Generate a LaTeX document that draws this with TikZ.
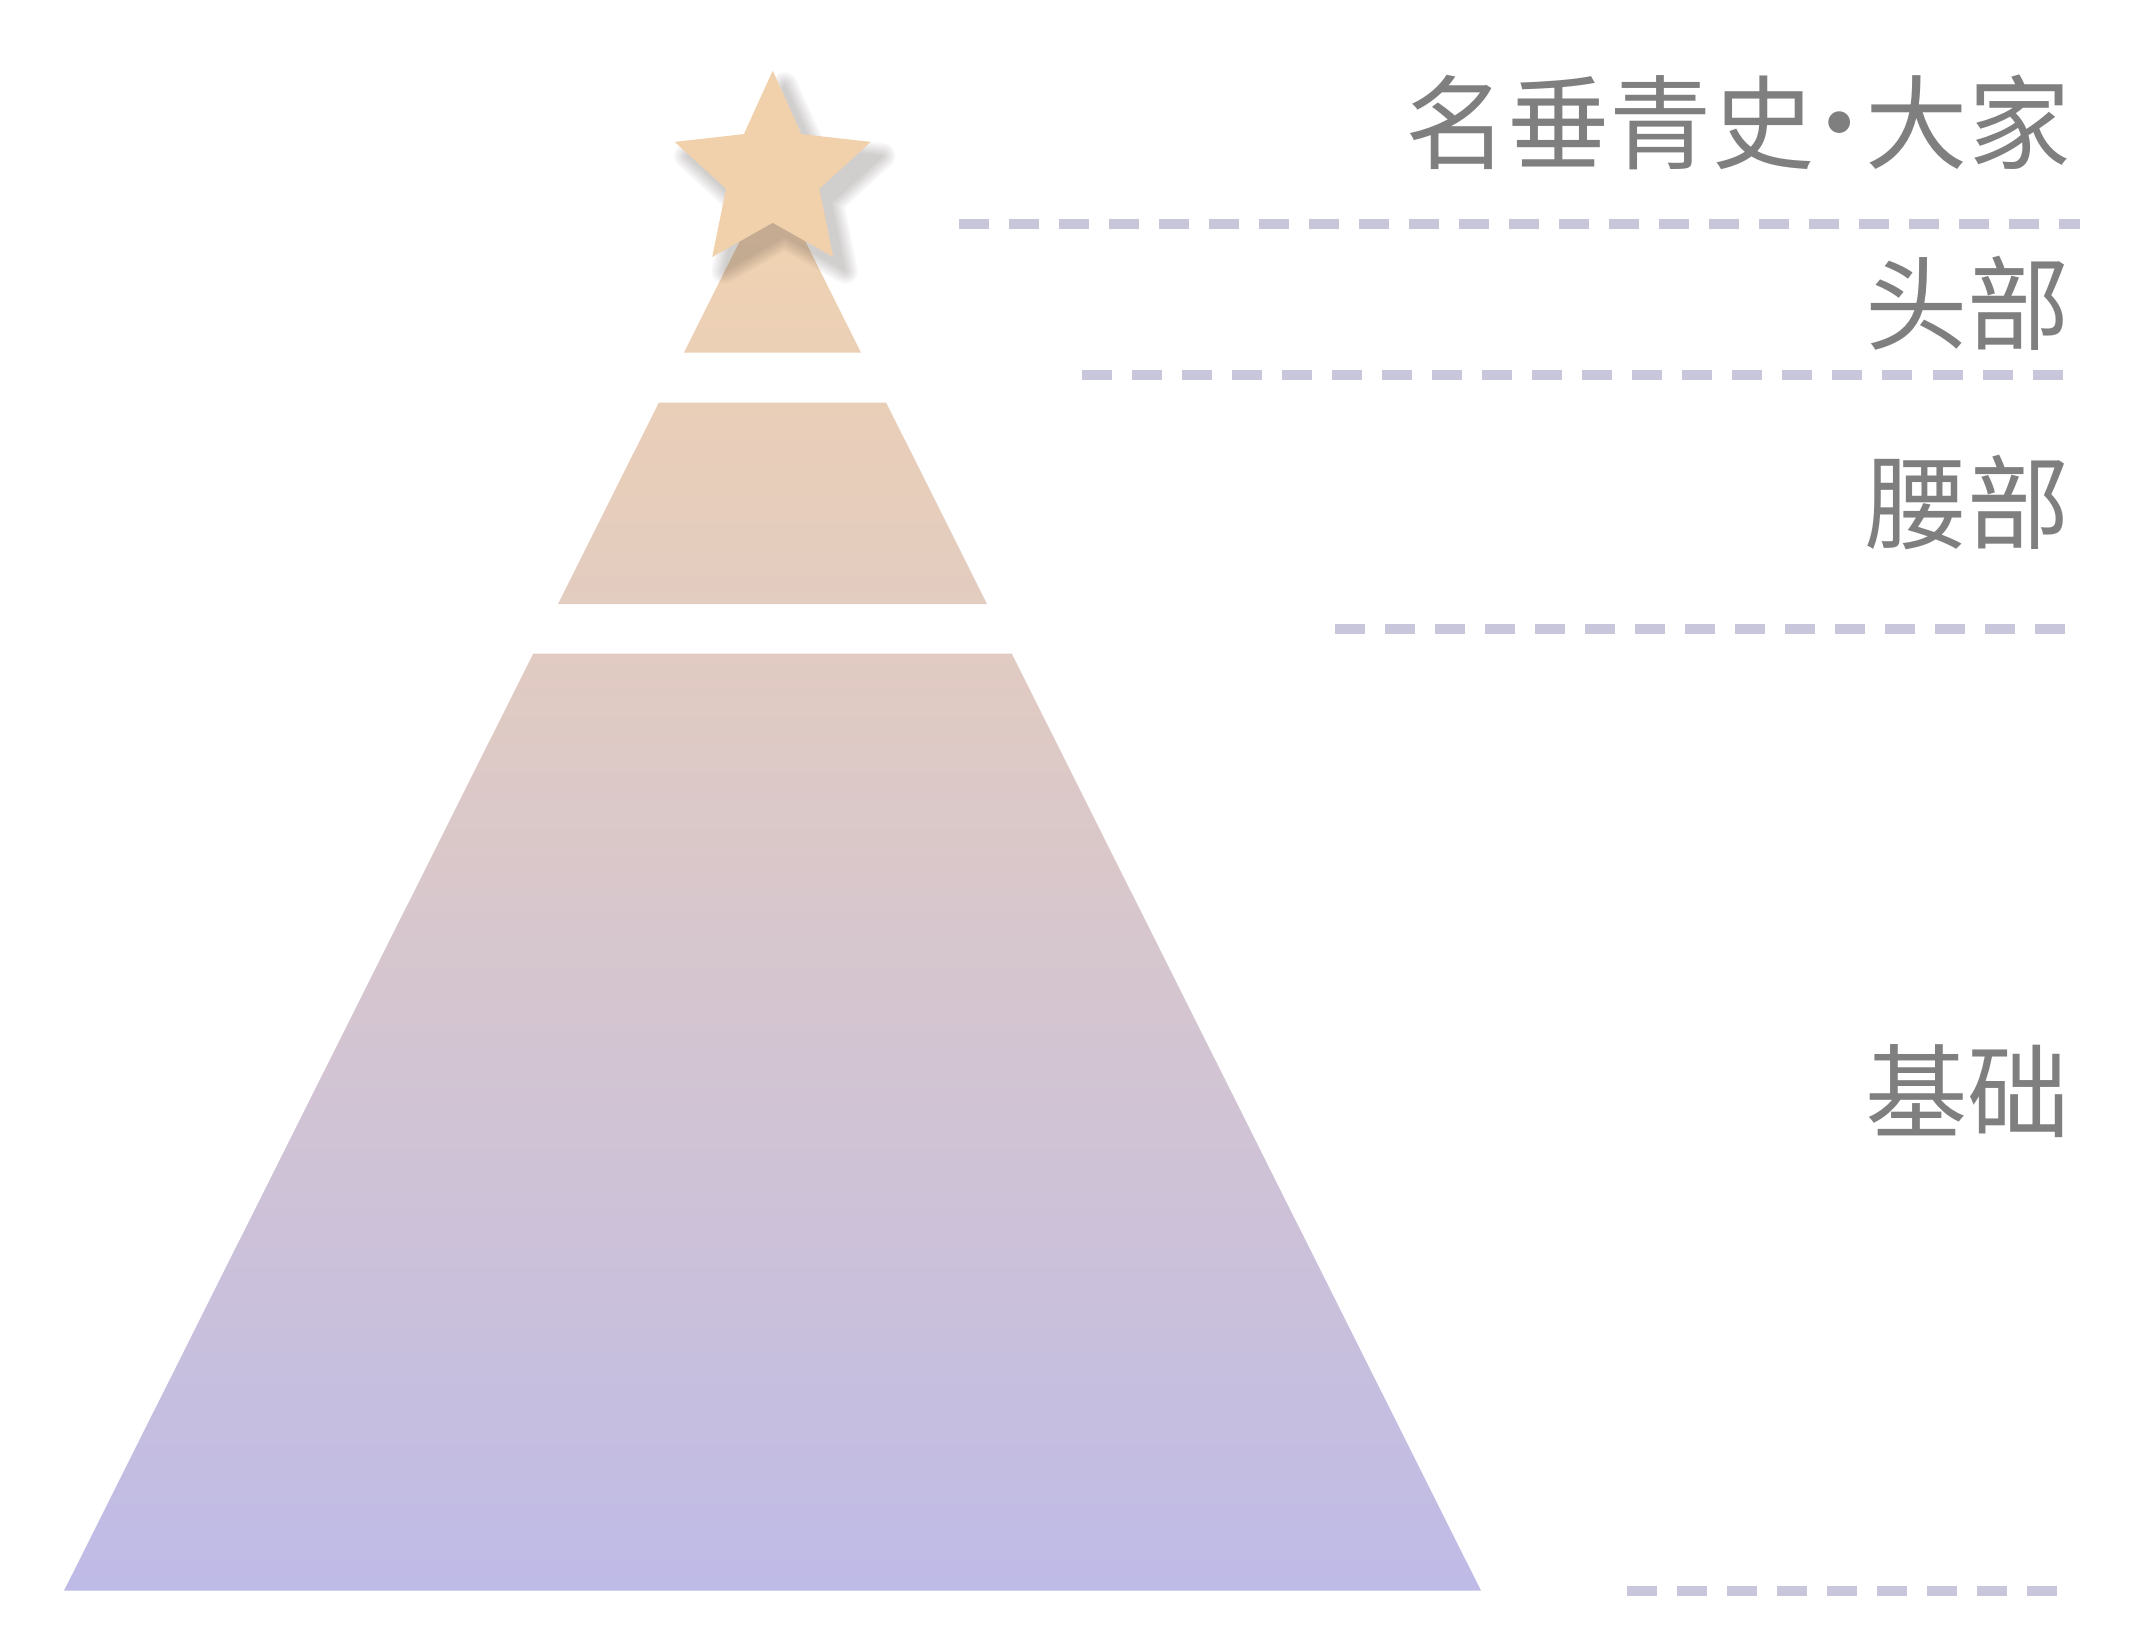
\documentclass[tikz,border=0pt]{standalone}
\usepackage{fontspec}
\newfontfamily\cjk{Noto Sans CJK SC}
\definecolor{topc}{HTML}{F2D3AF}
\definecolor{botc}{HTML}{BFBBE7}
\definecolor{starc}{HTML}{F1D1AC}
\definecolor{dashc}{HTML}{C8C6DB}
\definecolor{txtc}{HTML}{7F7F7F}
\definecolor{shadc}{HTML}{3A3030}
\def\starpath{(772.7,70.7) -- (801.5,134.1) -- (870.7,141.9) -- (819.3,188.8)
  -- (833.2,257.0) -- (772.7,222.7) -- (712.2,257.0) -- (726.1,188.8)
  -- (674.7,141.9) -- (743.9,134.1) -- cycle}
\begin{document}
\begin{tikzpicture}[x=0.01cm,y=-0.01cm,
  guide/.style={draw=dashc, line width=0.1cm, dash pattern=on 0.3cm off 0.2cm},
  lbl/.style={anchor=east, inner sep=0pt, text=txtc, font=\cjk\fontsize{29.1}{32}\selectfont},
  tier/.style={top color=topc, bottom color=botc},
  shadowlayer/.style={fill=shadc, draw=shadc, line join=round}]
\useasboundingbox[fill=white] (0,0) rectangle (2138,1650);
% pyramid corners
\coordinate (apex) at (772.5,175.7);
\coordinate (t1r) at (861.1,352.7); \coordinate (t1l) at (683.9,352.7);
\coordinate (m1l) at (658.8,402.7); \coordinate (m1r) at (886.2,402.7);
\coordinate (m2r) at (987,604);     \coordinate (m2l) at (558,604);
\coordinate (b1l) at (533.2,653.7); \coordinate (b1r) at (1011.8,653.7);
\coordinate (b2r) at (1481,1590.7); \coordinate (b2l) at (64,1590.7);
\shade[tier] (apex) -- (t1r) -- (t1l) -- cycle
  (m1l) -- (m1r) -- (m2r) -- (m2l) -- cycle
  (b1l) -- (b1r) -- (b2r) -- (b2l) -- cycle;
% star shadow (soft, built from layers)
\begin{scope}[shift={(12,14)}]
  \foreach \w [evaluate=\w as \lw using \w*0.2845] in {1,5,9,13,17,21,25}{
    \begin{scope}[transparency group, opacity=0.035]
      \path[shadowlayer, line width=\lw pt] \starpath;
    \end{scope}
  }
\end{scope}
% star
\fill[starc] \starpath;
% guide lines
\coordinate (g1a) at (958.5,224);  \coordinate (g1b) at (2080,224);
\coordinate (g2a) at (1082,375);   \coordinate (g2b) at (2063,375);
\coordinate (g3a) at (1335,629);   \coordinate (g3b) at (2067,629);
\coordinate (g4a) at (1626.7,1591); \coordinate (g4b) at (2056.7,1591);
\draw[guide] (g1a) -- (g1b);
\draw[guide] (g2a) -- (g2b);
\draw[guide] (g3a) -- (g3b);
\draw[guide] (g4a) -- (g4b);
% labels
\node[lbl] (top) at (2071,122) {名垂青史\kern-0.25em·\kern-0.25em 大家};
\node[lbl] (head) at (2071,303.5) {头部};
\node[lbl] (waist) at (2071,502) {腰部};
\node[lbl] (base) at (2071,1091) {基础};
\end{tikzpicture}
\end{document}
